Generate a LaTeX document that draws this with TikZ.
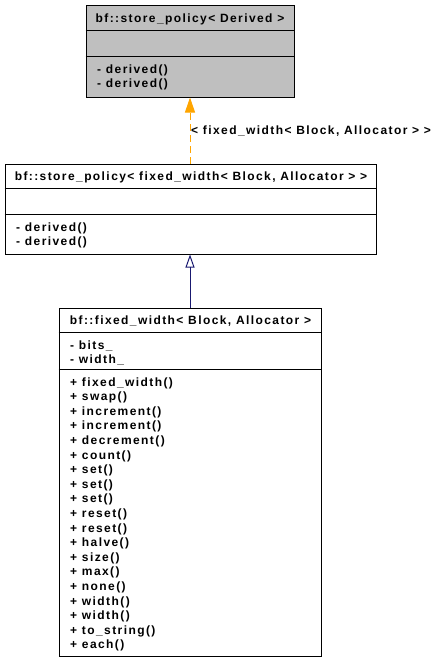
\documentclass[tikz,border=0pt]{standalone}
\usepackage{fontspec}
\setmainfont{Liberation Sans}[LetterSpace=11.8]
\usetikzlibrary{arrows.meta}
\definecolor{boxgray}{HTML}{BFBFBF}
\definecolor{tplorange}{HTML}{FFA500}
\definecolor{inhblue}{HTML}{191970}
\tikzset{
	classbox/.style={draw=black, line width=1pt, inner sep=0pt},
	member/.style={anchor=base west, inner sep=0pt, font=\bfseries\fontsize{12}{14}\selectfont},
	classname/.style={member, anchor=base},
	sepline/.style={black, line width=0.9pt}
}
\begin{document}
\begin{tikzpicture}[x=1pt,y=-1pt]
		\useasboundingbox (0,0) rectangle (437,669);
		% Basisklasse
		\node [classbox, fill=boxgray, minimum width=208pt, minimum height=91pt] (base) at (190,51.5) {};
		\draw [sepline] ([yshift=-25pt]base.north west) -- ([yshift=-25pt]base.north east);
		\draw [sepline] ([yshift=-51pt]base.north west) -- ([yshift=-51pt]base.north east);
		\node [classname] (baseT) at (190,22.5) {bf::store\_policy< Derived >};
		\node [member] (baseM0) at (97,74) {- derived()};
		\node [member] (baseM1) at (97,88) {- derived()};
		% Instanz
		\node [classbox, fill=white, minimum width=371pt, minimum height=90pt] (policy) at (190.5,209) {};
		\draw [sepline] ([yshift=-25pt]policy.north west) -- ([yshift=-25pt]policy.north east);
		\draw [sepline] ([yshift=-51pt]policy.north west) -- ([yshift=-51pt]policy.north east);
		\node [classname] (policyT) at (191,180.5) {bf::store\_policy< fixed\_width< Block, Allocator > >};
		\node [member] (policyM0) at (16,231) {- derived()};
		\node [member] (policyM1) at (16,245) {- derived()};
		% fixed_width
		\node [classbox, fill=white, minimum width=262pt, minimum height=348pt] (fw) at (190,482) {};
		\draw [sepline] ([yshift=-25pt]fw.north west) -- ([yshift=-25pt]fw.north east);
		\draw [sepline] ([yshift=-62pt]fw.north west) -- ([yshift=-62pt]fw.north east);
		\node [classname] (fwT) at (190.5,324) {bf::fixed\_width< Block, Allocator >};
		\node [member] (fwA0) at (70,349) {- bits\_};
		\node [member] (fwA1) at (70,363.6) {- width\_};
		\foreach \m [count=\i from 0] in {fixed\_width(), swap(), increment(), increment(), decrement(), count(), set(), set(), set(), reset(), reset(), halve(), size(), max(), none(), width(), width(), to\_string(), each()}
			\node [member] (fwM\i) at (70,{386+14.6*\i}) {+ \m};
		% Pfeile
		\draw [tplorange, line width=1pt, dash pattern=on 7pt off 4pt, -{Triangle[width=10pt,length=15pt]}] (base.south |- policy.north) -- (base.south);
		\node [member] (tplLabel) at (191,134) {< fixed\_width< Block, Allocator > >};
		\draw [inhblue, line width=1pt, -{Triangle[open,width=9pt,length=13pt]}] (fw.north) -- (fw.north |- policy.south);
\end{tikzpicture}
\end{document}
